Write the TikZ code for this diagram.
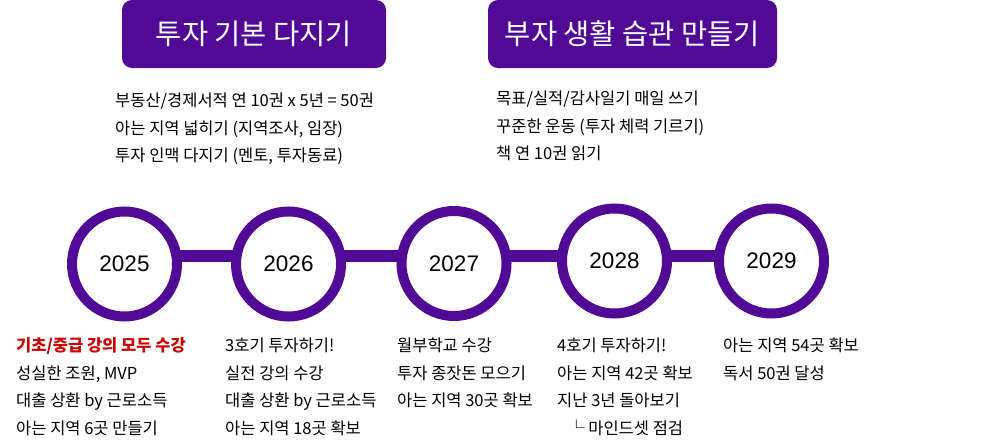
\documentclass[tikz,border=0pt]{standalone}
\usepackage{fontspec}
\setmainfont{Noto Sans CJK KR}
\newfontfamily\yearfont{Liberation Sans}
\usepackage{tikz}
\usetikzlibrary{positioning,backgrounds}
\definecolor{tlpurple}{RGB}{80,10,150}
\definecolor{tlred}{RGB}{200,0,0}

\begin{document}
\begin{tikzpicture}[x=1pt,y=-1pt,
year/.style={circle,draw=tlpurple,line width=10pt,fill=white,minimum size=105pt,inner sep=0pt,font=\yearfont\fontsize{22.5}{26}\selectfont},
head/.style={rectangle,rounded corners=10pt,fill=tlpurple,text=white,minimum height=68pt,inner sep=0pt,font=\fontsize{28.5}{32}\selectfont},
goal/.style={anchor=base west,align=left,inner sep=0pt,font=\fontsize{16.5}{27.5}\selectfont},
bar/.style={tlpurple,line width=12pt}]
\useasboundingbox (0,0) rectangle (982,447);

\node (h1) at (254,34) [head,minimum width=264pt] {투자 기본 다지기};
\node (h2) at (632.5,34) [head,minimum width=289pt] {부자 생활 습관 만들기};

\node (t1) at (115,161.5) [goal] {부동산/경제서적 연 10권 x 5년 = 50권\\아는 지역 넓히기 (지역조사, 임장)\\투자 인맥 다지기 (멘토, 투자동료)};
\node (t2) at (496,159.5) [goal] {목표/실적/감사일기 매일 쓰기\\꾸준한 운동 (투자 체력 기르기)\\책 연 10권 읽기};

\coordinate (bary) at (0,256);
\node (y25) at (124.5,264) [year] {2025};
\node (y26) at (288.5,264) [year] {2026};
\node (y27) at (454,263.5) [year] {2027};
\node (y28) at (614.5,261) [year] {2028};
\node (y29) at (771.5,261) [year] {2029};

\node (b25) at (16,434) [goal] {\textcolor{tlred}{\bfseries 기초/중급 강의 모두 수강}\\성실한 조원, MVP\\대출 상환 by 근로소득\\아는 지역 6곳 만들기};
\node (b26) at (225,434) [goal] {3호기 투자하기!\\실전 강의 수강\\대출 상환 by 근로소득\\아는 지역 18곳 확보};
\node (b27) at (397,406.5) [goal] {월부학교 수강\\투자 종잣돈 모으기\\아는 지역 30곳 확보};
\node (b28) at (557,434) [goal] {4호기 투자하기!\\아는 지역 42곳 확보\\지난 3년 돌아보기\\\hspace{11pt}└ 마인드셋 점검};
\node (b29) at (723,379) [goal] {아는 지역 54곳 확보\\독서 50권 달성};

\begin{scope}[on background layer]
\foreach \a/\b in {y25/y26,y26/y27,y27/y28,y28/y29}
  \draw[bar] (\a |- bary) -- (\b |- bary);
\end{scope}

\end{tikzpicture}
\end{document}
